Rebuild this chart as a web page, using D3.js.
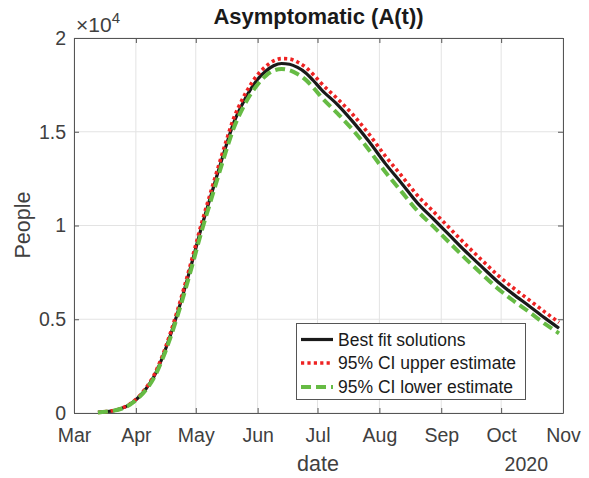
<!DOCTYPE html>
<html>
<head>
<meta charset="utf-8">
<script src="https://cdn.jsdelivr.net/npm/d3@7"></script>
<style>
  html, body { margin: 0; padding: 0; background: #fff; }
  svg { display: block; font-family: "Liberation Sans", Arial, Helvetica, sans-serif; }
</style>
</head>
<body>
<svg id="chart" width="589" height="478"></svg>
<script>
// Simulation dates (2020) and model output for the asymptomatic compartment A(t)
const dates = [
  "2020-03-13","2020-03-17","2020-03-21","2020-03-25","2020-03-29","2020-04-02",
  "2020-04-06","2020-04-10","2020-04-14","2020-04-18","2020-04-22","2020-04-26",
  "2020-04-30","2020-05-04","2020-05-08","2020-05-12","2020-05-16","2020-05-20",
  "2020-05-24","2020-05-28","2020-06-01","2020-06-05","2020-06-09","2020-06-13",
  "2020-06-17","2020-06-21","2020-06-25","2020-06-29","2020-07-03","2020-07-11",
  "2020-07-19","2020-07-27","2020-08-04","2020-08-12","2020-08-20","2020-08-28",
  "2020-09-05","2020-09-13","2020-09-21","2020-09-29","2020-10-07","2020-10-15",
  "2020-10-23","2020-10-30"
];
const bestFit = [
  30, 70, 130, 250, 460, 800,
  1280, 1930, 2880, 4050, 5380, 6830,
  8380, 9950, 11380, 12800, 14180, 15470,
  16400, 17180, 17800, 18230, 18520, 18640,
  18600, 18430, 18150, 17720, 17240, 16450,
  15500, 14450, 13300, 12270, 11210, 10360,
  9500, 8640, 7830, 7030, 6340, 5710,
  5060, 4520
];
const upperCI = [
  30, 72, 135, 260, 480, 830,
  1330, 2000, 2970, 4170, 5530, 7000,
  8570, 10150, 11600, 13030, 14420, 15720,
  16660, 17430, 18040, 18480, 18780, 18900,
  18880, 18720, 18450, 18040, 17570, 16760,
  15880, 14850, 13700, 12670, 11610, 10750,
  9880, 9010, 8190, 7380, 6680, 6030,
  5380, 4830
];
const lowerCI = [
  30, 68, 125, 240, 440, 770,
  1230, 1860, 2790, 3930, 5230, 6650,
  8170, 9720, 11130, 12540, 13910, 15190,
  16140, 16920, 17520, 17980, 18260, 18350,
  18280, 18080, 17780, 17340, 16840, 15980,
  15060, 14000, 12850, 11820, 10790, 9950,
  9100, 8250, 7450, 6670, 6000, 5390,
  4750, 4250
];
const yTicks = [0, 5000, 10000, 15000, 20000];
const yTickLabels = ["0", "0.5", "1", "1.5", "2"];
const legendLabels = ["Best fit solutions", "95% CI upper estimate", "95% CI lower estimate"];

const parse = d3.timeParse("%Y-%m-%d");
const svg = d3.select("#chart");
const m = { left: 74, right: 563, top: 38, bottom: 413 };

const x = d3.scaleTime()
  .domain([new Date(2020, 2, 1), new Date(2020, 10, 1)])
  .range([m.left, m.right]);
const y = d3.scaleLinear().domain([0, 20000]).range([m.bottom, m.top]);

const monthTicks = d3.timeMonth.range(new Date(2020, 2, 1), new Date(2020, 10, 2));

// grid
const grid = svg.append("g").attr("stroke", "#e3e3e3").attr("stroke-width", 1);
monthTicks.forEach(t => {
  grid.append("line").attr("x1", x(t)).attr("x2", x(t)).attr("y1", m.top).attr("y2", m.bottom);
});
yTicks.forEach(v => {
  grid.append("line").attr("x1", m.left).attr("x2", m.right).attr("y1", y(v)).attr("y2", y(v));
});

// axes: bottom/left with labels, top/right as box with inward ticks
const tickCol = "#404040";
const axB = svg.append("g").attr("transform", `translate(0,${m.bottom})`)
  .call(d3.axisBottom(x).tickValues(monthTicks).tickFormat(d3.timeFormat("%b"))
    .tickSizeInner(-5).tickSizeOuter(0).tickPadding(15));
const axT = svg.append("g").attr("transform", `translate(0,${m.top})`)
  .call(d3.axisTop(x).tickValues(monthTicks).tickFormat("")
    .tickSizeInner(-5).tickSizeOuter(0));
const axL = svg.append("g").attr("transform", `translate(${m.left},0)`)
  .call(d3.axisLeft(y).tickValues(yTicks).tickFormat((d, i) => yTickLabels[i])
    .tickSizeInner(-5).tickSizeOuter(0).tickPadding(8));
const axR = svg.append("g").attr("transform", `translate(${m.right},0)`)
  .call(d3.axisRight(y).tickValues(yTicks).tickFormat("")
    .tickSizeInner(-5).tickSizeOuter(0));
[axB, axT, axL, axR].forEach(a => {
  a.select(".domain").attr("stroke", "#555").attr("stroke-width", 1);
  a.selectAll(".tick line").attr("stroke", "#555");
  a.selectAll(".tick text").attr("fill", tickCol)
    .style("font-family", "'Liberation Sans', Arial, sans-serif").style("font-size", "19.5px");
});

// series
const series = [
  { vals: bestFit, color: "#1a1a1a", width: 3.2, dash: null },
  { vals: upperCI, color: "#ee2222", width: 3.6, dash: "3.2,3.2" },
  { vals: lowerCI, color: "#66bb44", width: 4, dash: "10,5" }
];
const line = d3.line().x(d => x(d.date)).y(d => y(d.v)).curve(d3.curveMonotoneX);
series.forEach(s => {
  const pts = dates.map((d, i) => ({ date: parse(d), v: s.vals[i] }));
  svg.append("path").datum(pts)
    .attr("d", line)
    .attr("fill", "none")
    .attr("stroke", s.color)
    .attr("stroke-width", s.width)
    .attr("stroke-dasharray", s.dash)
    .attr("stroke-linejoin", "round");
});

// legend
const lg = svg.append("g");
lg.append("rect").attr("x", 296.5).attr("y", 323.5).attr("width", 229).attr("height", 76)
  .attr("fill", "#fff").attr("stroke", "#555").attr("stroke-width", 1);
const rowsY = [339.5, 363, 387];
series.forEach((s, i) => {
  lg.append("line").attr("x1", 301).attr("x2", 333).attr("y1", rowsY[i]).attr("y2", rowsY[i])
    .attr("stroke", s.color).attr("stroke-width", s.width).attr("stroke-dasharray", s.dash);
  lg.append("text").attr("x", 338).attr("y", rowsY[i]).attr("dy", "0.36em")
    .attr("fill", "#1a1a1a").style("font-size", "17.5px").text(legendLabels[i]);
});

// titles and labels
svg.append("text").attr("x", (m.left + m.right) / 2).attr("y", 24)
  .attr("text-anchor", "middle").attr("font-weight", "bold").attr("fill", "#1a1a1a")
  .style("font-size", "22px").text("Asymptomatic (A(t))");
svg.append("text").attr("x", 318).attr("y", 471).attr("text-anchor", "middle")
  .attr("fill", tickCol).style("font-size", "21.5px").text("date");
svg.append("text").attr("x", 548).attr("y", 471).attr("text-anchor", "end")
  .attr("fill", tickCol).style("font-size", "19.5px").text("2020");
svg.append("text").attr("transform", "translate(30,225) rotate(-90)")
  .attr("text-anchor", "middle").attr("fill", tickCol).style("font-size", "21.5px").text("People");
const ex = svg.append("text").attr("x", 76).attr("y", 32).attr("fill", tickCol).style("font-size", "21px");
ex.append("tspan").text("\u00d710");
ex.append("tspan").attr("dy", -9).style("font-size", "15px").text("4");
</script>
</body>
</html>
